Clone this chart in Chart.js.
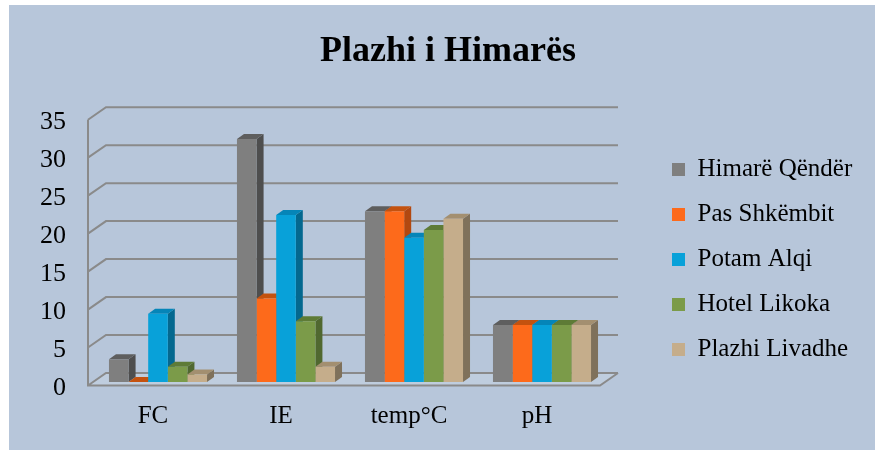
<!DOCTYPE html>
<html>
<head>
<meta charset="utf-8">
<script src="https://cdn.jsdelivr.net/npm/chart.js@4/dist/chart.umd.min.js"></script>
<style>
  html, body { margin: 0; padding: 0; background: #fff; }
  #wrap { width: 875px; height: 450px; }
</style>
</head>
<body>
<div id="wrap"><canvas id="mychart" width="875" height="450"></canvas></div>
<script>
var categories = ['FC', 'IE', 'temp°C', 'pH'];
var seriesNames = ['Himarë Qëndër', 'Pas Shkëmbit', 'Potam Alqi', 'Hotel Likoka', 'Plazhi Livadhe'];
var himareQender = [3, 32, 22.5, 7.5];
var pasShkembit = [0, 11, 22.5, 7.5];
var potamAlqi = [9, 22, 19, 7.5];
var hotelLikoka = [2, 8, 20, 7.5];
var plazhiLivadhe = [1, 2, 21.5, 7.5];
var yMin = 0, yMax = 35, yStep = 5;

// front, side and top colours for each series
var fronts = ['#7f7f7f', '#fd6a1b', '#08a1d9', '#7b9b49', '#c5ad8b'];
var sides = ['#4e4e4e', '#b24810', '#04688f', '#506830', '#7f715b'];
var tops = ['#5e5e5e', '#c4520f', '#0585b8', '#5e7b36', '#a38f70'];

var serif = "'Liberation Serif', 'Times New Roman', serif";

// light blue panel behind everything
var panel = {
    id: 'panel',
    beforeDraw: function(chart) {
        var ctx = chart.ctx;
        ctx.save();
        ctx.fillStyle = '#b7c6da';
        ctx.fillRect(9, 5, chart.width - 9, chart.height - 5);
        ctx.restore();
    }
};

// fake 3d: walls, floor, then side/top faces of the bars (fronts drawn by chart.js)
var depth3d = {
    id: 'depth3d',
    beforeDatasetsDraw: function(chart) {
        var ctx = chart.ctx;
        var a = chart.chartArea;
        var ys = chart.scales.y;
        var fdx = -6, fdy = 3.5, bdx = 12, bdy = -9;
        var y0 = ys.getPixelForValue(yMin);
        var yTop = ys.getPixelForValue(yMax);

        ctx.save();
        ctx.fillStyle = 'rgba(255,255,255,0.12)';
        ctx.beginPath();
        ctx.moveTo(a.left + fdx, y0 + fdy);
        ctx.lineTo(a.right + fdx, y0 + fdy);
        ctx.lineTo(a.right + bdx, y0 + bdy);
        ctx.lineTo(a.left + bdx, y0 + bdy);
        ctx.closePath();
        ctx.fill();

        ctx.strokeStyle = '#8a8a8a';
        ctx.lineWidth = 2;
        ctx.beginPath();
        ys.ticks.forEach(function(t) {
            var py = ys.getPixelForValue(t.value);
            ctx.moveTo(a.left + fdx, py + fdy);
            ctx.lineTo(a.left + bdx, py + bdy);
            ctx.lineTo(a.right + bdx, py + bdy);
        });
        ctx.moveTo(a.left + fdx, yTop + fdy);
        ctx.lineTo(a.left + fdx, y0 + fdy);
        ctx.lineTo(a.right + fdx, y0 + fdy);
        ctx.lineTo(a.right + bdx, y0 + bdy);
        ctx.stroke();

        var dx = 7, dy = 5;
        chart.data.datasets.forEach(function(ds, i) {
            var meta = chart.getDatasetMeta(i);
            meta.data.forEach(function(bar) {
                var p = bar.getProps(['x', 'y', 'base', 'width'], true);
                var l = p.x - p.width / 2, r = p.x + p.width / 2;
                var top = Math.min(p.y, p.base), base = Math.max(p.y, p.base);
                ctx.fillStyle = sides[i];
                ctx.beginPath();
                ctx.moveTo(r, top);
                ctx.lineTo(r + dx, top - dy);
                ctx.lineTo(r + dx, base - dy);
                ctx.lineTo(r, base);
                ctx.closePath();
                ctx.fill();
                ctx.fillStyle = tops[i];
                ctx.beginPath();
                ctx.moveTo(l, top);
                ctx.lineTo(l + dx, top - dy);
                ctx.lineTo(r + dx, top - dy);
                ctx.lineTo(r, top);
                ctx.closePath();
                ctx.fill();
            });
        });
        ctx.restore();
    }
};

var allValues = [himareQender, pasShkembit, potamAlqi, hotelLikoka, plazhiLivadhe];
var datasets = seriesNames.map(function(name, i) {
    return {
        label: name,
        data: allValues[i],
        backgroundColor: fronts[i],
        borderWidth: 0,
        yAxisID: 'y',
        barPercentage: 1,
        categoryPercentage: 0.766
    };
});

var ctx = document.getElementById('mychart');
var myChart = new Chart(ctx, {
    type: 'bar',
    data: { labels: categories, datasets: datasets },
    plugins: [panel, depth3d],
    options: {
        responsive: false,
        animation: false,
        devicePixelRatio: 1,
        layout: { padding: { top: 0, left: 37, right: 16, bottom: 12 } },
        plugins: {
            title: {
                display: true,
                text: 'Plazhi i Himarës',
                color: '#000',
                font: { family: serif, size: 36, weight: 'bold' },
                padding: { top: 30, bottom: 43 }
            },
            legend: {
                position: 'right',
                align: 'end',
                fullSize: false,
                maxWidth: 207,
                labels: {
                    boxWidth: 13,
                    boxHeight: 13,
                    padding: 20,
                    color: '#000',
                    font: { family: serif, size: 25 }
                }
            },
            tooltip: { enabled: false }
        },
        scales: {
            x: {
                grid: { display: false },
                border: { display: false },
                ticks: {
                    color: '#000',
                    font: { family: serif, size: 25 },
                    padding: 11,
                    labelOffset: -5,
                    maxRotation: 0
                },
                afterFit: function(s) { s.height = 56; }
            },
            y: {
                min: yMin,
                max: yMax,
                grid: { display: false },
                border: { display: false },
                ticks: {
                    stepSize: yStep,
                    color: '#000',
                    font: { family: serif, size: 26 },
                    padding: 20,
                    labelOffset: 6
                },
                afterFit: function(s) { s.width = 57; }
            },
            gap: {
                type: 'linear',
                position: 'right',
                grid: { display: false },
                border: { display: false },
                ticks: { display: false },
                afterFit: function(s) { s.width = 46; }
            }
        }
    }
});
</script>
</body>
</html>
